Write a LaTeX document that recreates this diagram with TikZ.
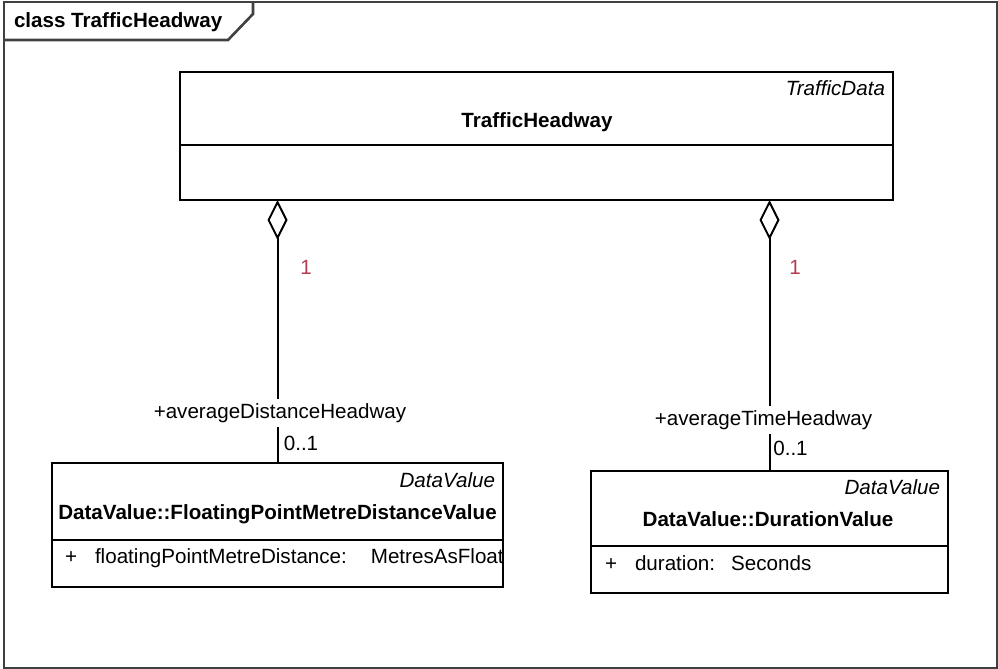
\documentclass[tikz,border=0pt]{standalone}
\usepackage{fontspec}
\setmainfont{Liberation Sans}
\usetikzlibrary{arrows.meta}

\begin{document}
\begin{tikzpicture}[
  x=0.5pt, y=-0.5pt,
  every node/.style={font=\fontsize{10.3}{12}\selectfont, inner sep=0pt, outer sep=0pt},
  frame/.style={draw=black!75, line width=1.3pt},
  classbox/.style={draw, line width=1pt, fill=white},
  classname/.style={font=\fontsize{10.3}{12}\selectfont\bfseries, anchor=mid},
]
%-------------------------------------------------------------
% Custom colors
\newcommand{\colLine}{black}
\newcommand{\colMult}{magenta!45!red!70!black}

\tikzset{stereo/.style={font=\fontsize{10.3}{12}\selectfont\itshape, anchor=mid east}}
\tikzset{attrib/.style={anchor=mid west}}
\tikzset{divider/.style={draw=\colLine, line width=1pt}}
\tikzset{role/.style={fill=white, inner sep=2pt}}
\tikzset{mult/.style={text=\colMult}}
\tikzset{aggr/.style={draw=\colLine, line width=1pt,
  {Diamond[open, length=20pt, width=10pt]}-}}

\useasboundingbox (0,0) rectangle (998,669);

%-------------------------------------------------------------
% Frame
\draw[frame] (4,2) rectangle (997,668);
\draw[frame] (4,40) -- (228,40) -- (253,14) -- (253,2);
\node[classname, anchor=mid west] (frm) at (14,22) {class TrafficHeadway};

%============================================================
% Classes
\node[classbox, minimum width=356.5pt, minimum height=64pt] (th) at (536.5,136) {};
\node[stereo] (thS) at (885,90) {TrafficData};
\node[classname] (thN) at (537,122) {TrafficHeadway};
\draw[divider] (th.west |- 0,145) -- (th.east |- 0,145);

\node[classbox, minimum width=225.5pt, minimum height=62pt] (fpm) at (277.5,525) {};
\node[stereo] (fpmS) at (495,482) {DataValue};
\node[classname] (fpmN) at (277.5,514) {DataValue::FloatingPointMetreDistanceValue};
\draw[divider] (fpm.west |- 0,540) -- (fpm.east |- 0,540);
\node[attrib] (fpmA) at (65,558)
  {+\hspace*{9pt}floatingPointMetreDistance:\hspace*{12pt}MetresAsFloat};

\node[classbox, minimum width=178.5pt, minimum height=61pt] (dur) at (769.5,532) {};
\node[stereo] (durS) at (940,489) {DataValue};
\node[classname] (durN) at (768,521) {DataValue::DurationValue};
\draw[divider] (dur.west |- 0,546) -- (dur.east |- 0,546);
\node[attrib] (durA) at (605,565) {+\hspace*{9pt}duration:\hspace*{8pt}Seconds};

%============================================================
% Aggregations
\draw[aggr] (th.south -| fpm.north) -- (fpm.north);
\draw[aggr] (th.south -| dur.north) -- (dur.north);

\node[role] (rDist) at (280,413) {+averageDistanceHeadway};
\node[role] (rTime) at (763.5,420) {+averageTimeHeadway};

\node[mult] (mDistT) at (306,267) {1};
\node (mDistB) at (301,443) {0..1};
\node[mult] (mTimeT) at (795,267) {1};
\node (mTimeB) at (790.5,448) {0..1};

\end{tikzpicture}
\end{document}
